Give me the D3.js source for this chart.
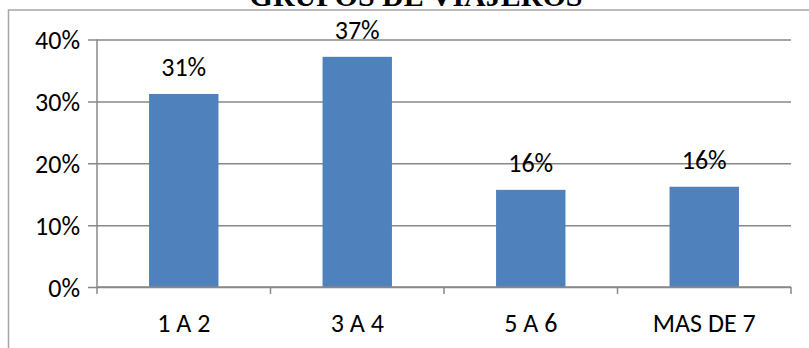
<!DOCTYPE html>
<html>
<head>
<meta charset="utf-8">
<script src="https://cdn.jsdelivr.net/npm/d3@7"></script>
<style>
  html, body { margin: 0; padding: 0; background: #fff; overflow: hidden; }
  svg { display: block; }
</style>
</head>
<body>
<svg id="chart" width="809" height="348"></svg>
<script>
const title = "GRUPOS DE VIAJEROS";
const categories = ["1 A 2", "3 A 4", "5 A 6", "MAS DE 7"];
const values = [0.312, 0.372, 0.157, 0.162];
const yTicks = [0, 0.1, 0.2, 0.3, 0.4];

const svg = d3.select("#chart");
const W = 809, H = 348;
const margin = { left: 97, right: 18, top: 39.5, bottom: 61 };
const plotW = W - margin.left - margin.right;
const plotH = H - margin.top - margin.bottom;

const labelFont = "'Liberation Sans Narrow', 'Arial Narrow', Calibri, Carlito, sans-serif";

svg.append("rect").attr("x", 0).attr("y", 0).attr("width", W).attr("height", H).attr("fill", "#fff");

// outer chart border
svg.append("rect")
  .attr("x", 8.5).attr("y", 10)
  .attr("width", W + 20).attr("height", H + 20)
  .attr("fill", "none").attr("stroke", "#a6a6a6").attr("stroke-width", 1.5);

// title (clipped at top as in original)
svg.append("text")
  .attr("x", 416).attr("y", 6)
  .attr("text-anchor", "middle")
  .attr("font-family", "'Liberation Serif', 'Times New Roman', serif")
  .attr("font-weight", "bold")
  .attr("font-size", 30)
  .attr("fill", "#000")
  .text(title);

const g = svg.append("g").attr("transform", `translate(${margin.left},${margin.top})`);

const x = d3.scaleBand().domain(categories).range([0, plotW]).paddingInner(0.6).paddingOuter(0.3);
const xb = d3.scaleBand().domain(categories).range([0, plotW]);
const y = d3.scaleLinear().domain([0, 0.4]).range([plotH, 0]);

// gridlines + y axis
const yAxis = d3.axisLeft(y).tickValues(yTicks).tickFormat(d3.format(".0%"))
  .tickSize(-plotW).tickPadding(17);
const ya = g.append("g").call(yAxis);
ya.select(".domain").remove();
ya.selectAll(".tick line").attr("x1", -9).attr("stroke", "#888").attr("stroke-width", 1.5);
ya.selectAll(".tick text")
  .attr("font-family", labelFont).attr("font-size", 26).attr("fill", "#000")
  .attr("dy", "0.36em");

// y axis line
g.append("line").attr("x1", 0).attr("x2", 0).attr("y1", 0).attr("y2", plotH)
  .attr("stroke", "#888").attr("stroke-width", 1.5);

// bars
g.selectAll("rect.bar").data(values).join("rect")
  .attr("class", "bar")
  .attr("x", (d, i) => xb(categories[i]) + xb.bandwidth() * 0.3)
  .attr("width", xb.bandwidth() * 0.4)
  .attr("y", d => y(d))
  .attr("height", d => plotH - y(d))
  .attr("fill", "#4F81BD");

// data labels
g.selectAll("text.dl").data(values).join("text")
  .attr("class", "dl")
  .attr("x", (d, i) => xb(categories[i]) + xb.bandwidth() / 2)
  .attr("y", d => y(d) - 17.5)
  .attr("text-anchor", "middle")
  .attr("font-family", labelFont).attr("font-size", 26).attr("fill", "#000")
  .text(d => d3.format(".0%")(d));

// x axis
const xAxisG = g.append("g").attr("transform", `translate(0,${plotH})`);
xAxisG.append("line").attr("x1", 0).attr("x2", plotW).attr("y1", 0).attr("y2", 0)
  .attr("stroke", "#888").attr("stroke-width", 1.5);
const bounds = categories.map(c => xb(c)).concat([plotW]);
xAxisG.selectAll("line.tk").data(bounds).join("line")
  .attr("class", "tk")
  .attr("x1", d => d).attr("x2", d => d).attr("y1", 0).attr("y2", 7)
  .attr("stroke", "#888").attr("stroke-width", 1.5);
xAxisG.selectAll("text.xl").data(categories).join("text")
  .attr("class", "xl")
  .attr("x", d => xb(d) + xb.bandwidth() / 2)
  .attr("y", 45)
  .attr("text-anchor", "middle")
  .attr("font-family", labelFont).attr("font-size", 26).attr("fill", "#000")
  .text(d => d);
</script>
</body>
</html>
